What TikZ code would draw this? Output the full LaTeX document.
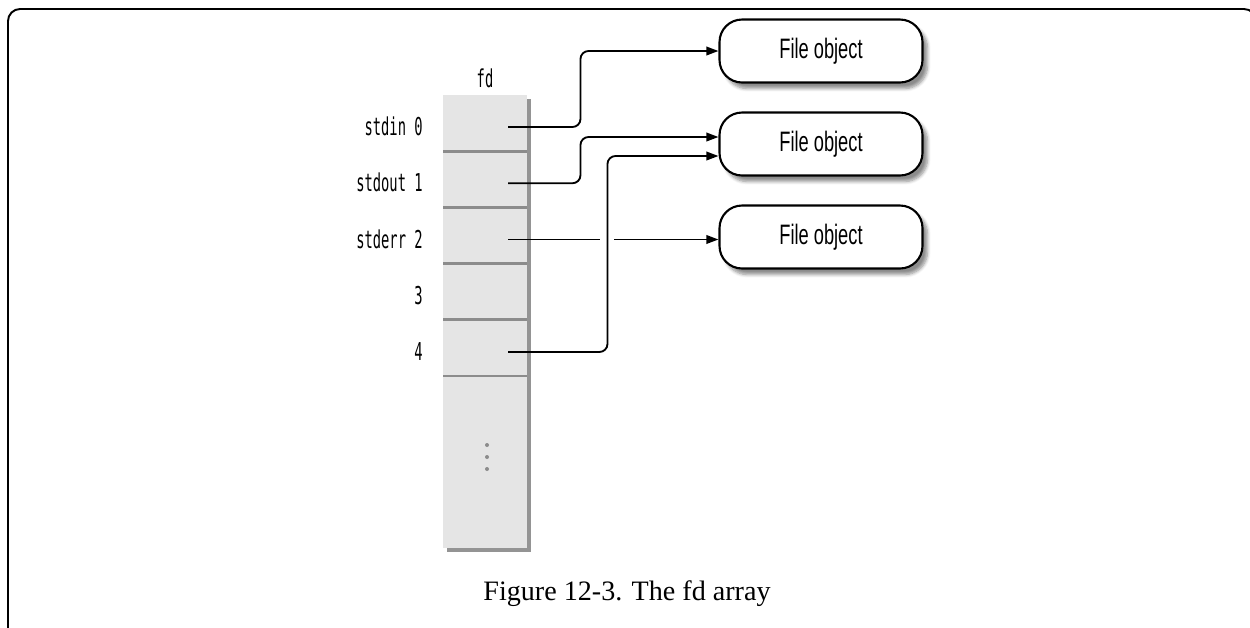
\documentclass[tikz,border=0pt]{standalone}
\usepackage{fontspec}
\setmainfont{Liberation Serif}
\newfontfamily\fdmono[FakeStretch=0.56]{DejaVu Sans Mono}
\newfontfamily\fdsans[FakeStretch=0.65]{Liberation Sans}
\usetikzlibrary{positioning, calc, arrows.meta, shadows, shadows.blur}

\begin{document}
\begin{tikzpicture}[
  x=0.02cm, y=-0.02cm,
  frame/.style      = {line width=1.1pt, rounded corners=0.24cm},
  fd array/.style   = {fill=black!10, minimum width=1.68cm, minimum height=9.06cm, inner sep=0pt,
                       drop shadow={shadow xshift=0.08cm, shadow yshift=-0.08cm, fill=black!70, opacity=0.6}},
  cell/.style       = {minimum width=1.68cm, minimum height=1.125cm, inner sep=0pt, outer sep=0pt},
  divider/.style    = {line width=1.6pt, color=black!45},
  slot label/.style = {font=\fdmono\fontsize{14}{17}\selectfont, anchor=east, inner sep=0pt, yshift=-0.07cm},
  fd head/.style    = {font=\fdmono\fontsize{14}{17}\selectfont, inner sep=0pt},
  file obj/.style   = {draw, line width=1.2pt, rounded corners=0.45cm, fill=white,
                       minimum width=4.06cm, minimum height=1.26cm, font=\fdsans\fontsize{16}{19}\selectfont,
                       blur shadow={shadow xshift=0.1cm, shadow yshift=-0.12cm, shadow blur steps=6, shadow opacity=45}},
  link/.style       = {line width=1.05pt, rounded corners=0.16cm},
  arr/.style        = {link, -{Triangle[length=2.4mm, width=1.7mm]}},
  caption/.style    = {font=\fontsize{16}{19}\selectfont},
]
\useasboundingbox (0,0) rectangle (1250,627);

% outer frame
\draw[frame] (8,640) -- (8,9) -- (1256,9) -- (1256,640);

% =============================================================
% fd array
% =============================================================
\node[fd array] (fdarr) at (485,321.5) {};
\node[fd head] (fdlbl) [above=0.14cm of fdarr] {fd};

\node[cell] (c0) at (485,123) {};
\node[cell, below=0pt of c0] (c1) {};
\node[cell, below=0pt of c1] (c2) {};
\node[cell, below=0pt of c2] (c3) {};
\node[cell, below=0pt of c3] (c4) {};

\foreach \i in {0,...,4} {
  \draw[divider] (c\i.south west) -- (c\i.south east);
  \coordinate (p\i) at ($(c\i.center)+(23,4)$);
}

\node[slot label, left=0.4cm of c0] (l0) {stdin 0};
\node[slot label, left=0.4cm of c1] (l1) {stdout 1};
\node[slot label, left=0.4cm of c2] (l2) {stderr 2};
\node[slot label, left=0.4cm of c3] (l3) {3};
\node[slot label, left=0.4cm of c4] (l4) {4};

% dots in the unused part
\foreach \y in {445,457,469}
  \fill[black!45] (487,\y) circle (0.04cm);

% =============================================================
% File objects
% =============================================================
\node[file obj] (f1) at (821,51)  {File object};
\node[file obj] (f2) at (821,144) {File object};
\node[file obj] (f3) at (821,237) {File object};

% bend points of the links
\coordinate (j0) at ($(f1.west)+(-138,0)$);
\coordinate (j1) at ($(f2.west)+(-138,-7)$);
\coordinate (j4) at ($(f2.west)+(-111,12)$);

\draw[arr] (p0) -| (j0) -- (f1.west);
\draw[arr] (p1) -| (j1) -- (j1 -| f2.west);
\draw[arr] (p4) -| (j4) -- (j4 -| f2.west);
% stderr line is broken where the fd 4 line crosses it
\draw[link] (p2) -- ($(p2 -| j4)+(-7,0)$);
\draw[arr] ($(p2 -| j4)+(7,0)$) -- (p2 -| f3.west);

\node[caption] (cap) at (627,594) {Figure 12-3. The fd array};

\end{tikzpicture}
\end{document}
